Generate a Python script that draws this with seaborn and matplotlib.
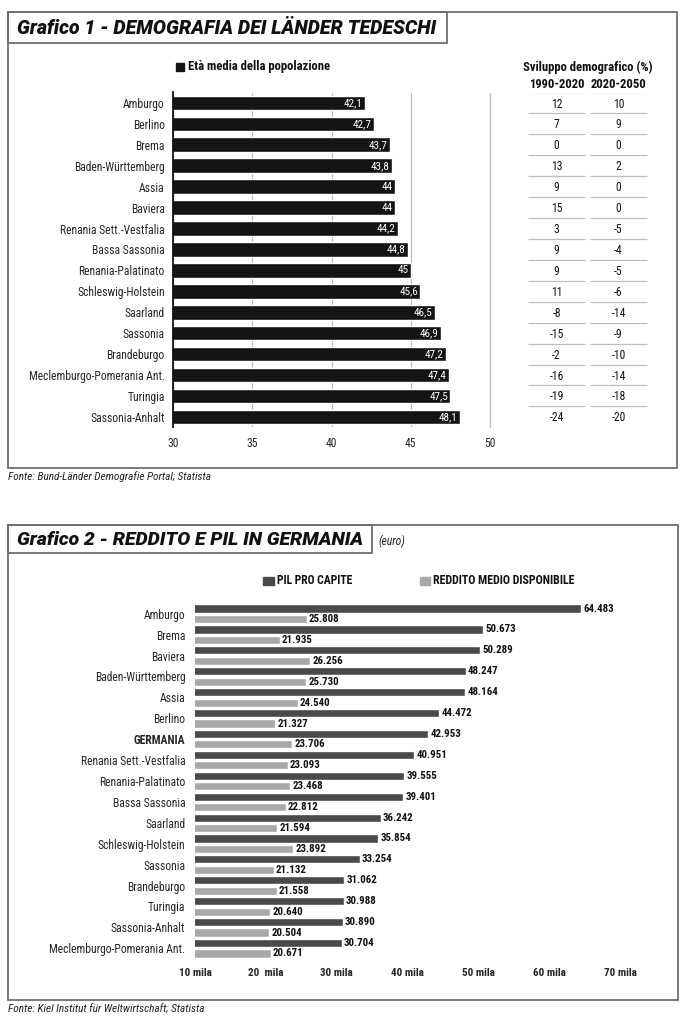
import numpy as np
import pandas as pd
import matplotlib
matplotlib.use("Agg")
import matplotlib.pyplot as plt
import seaborn as sns
from matplotlib import font_manager
from matplotlib.patches import Rectangle

W, H = 687, 1023

# ---------------------------------------------------------------------------
# Data - chart 1
# ---------------------------------------------------------------------------
laender_1 = ["Amburgo", "Berlino", "Brema", "Baden-Württemberg", "Assia", "Baviera",
             "Renania Sett.-Vestfalia", "Bassa Sassonia", "Renania-Palatinato",
             "Schleswig-Holstein", "Saarland", "Sassonia", "Brandeburgo",
             "Meclemburgo-Pomerania Ant.", "Turingia", "Sassonia-Anhalt"]
eta_media = [42.1, 42.7, 43.7, 43.8, 44, 44, 44.2, 44.8, 45, 45.6, 46.5, 46.9,
             47.2, 47.4, 47.5, 48.1]
sviluppo_1990_2020 = [12, 7, 0, 13, 9, 15, 3, 9, 9, 11, -8, -15, -2, -16, -19, -24]
sviluppo_2020_2050 = [10, 9, 0, 2, 0, 0, -5, -4, -5, -6, -14, -9, -10, -14, -18, -20]
ticks_1 = [30, 35, 40, 45, 50]

# ---------------------------------------------------------------------------
# Data - chart 2
# ---------------------------------------------------------------------------
laender_2 = ["Amburgo", "Brema", "Baviera", "Baden-Württemberg", "Assia", "Berlino",
             "GERMANIA", "Renania Sett.-Vestfalia", "Renania-Palatinato",
             "Bassa Sassonia", "Saarland", "Schleswig-Holstein", "Sassonia",
             "Brandeburgo", "Turingia", "Sassonia-Anhalt", "Meclemburgo-Pomerania Ant."]
pil_pro_capite = [64483, 50673, 50289, 48247, 48164, 44472, 42953, 40951, 39555,
                  39401, 36242, 35854, 33254, 31062, 30988, 30890, 30704]
reddito_medio = [25808, 21935, 26256, 25730, 24540, 21327, 23706, 23093, 23468,
                 22812, 21594, 23892, 21132, 21558, 20640, 20504, 20671]
ticks_2 = [10000, 20000, 30000, 40000, 50000, 60000, 70000]
tick_labels_2 = ["10 mila", "20  mila", "30 mila", "40 mila", "50 mila", "60 mila", "70 mila"]

# ---------------------------------------------------------------------------
# Fonts: prefer a narrow face, fall back to the narrowest installed one
# ---------------------------------------------------------------------------
sns.set_theme(style="white")
names = {f.name for f in font_manager.fontManager.ttflist}
FONT = next((c for c in ["Roboto Condensed", "Liberation Sans Narrow", "Open Sans Condensed",
                         "Noto Sans Condensed"] if c in names),
            "Roboto" if "Roboto" in names else "DejaVu Sans")
TITLE_FONT = "Roboto" if "Roboto" in names else FONT
plt.rcParams["font.family"] = [FONT, "DejaVu Sans"]

FRAME = "#6e6e6e"
DARK = "#4a4a4a"
LIGHT = "#a8a8a8"
INK = "#111111"

fig = plt.figure(figsize=(W / 100, H / 100), dpi=100)
renderer = fig.canvas.get_renderer()


def fit(s, target, **kw):
    """Font size so that s is about target pixels wide."""
    t = fig.text(0, 0, s, fontsize=10, **kw)
    w = t.get_window_extent(renderer).width
    t.remove()
    return 10 * target / w


def px(x, y):
    return x / W, 1 - y / H


def box(x0, y0, x1, y1):
    return [x0 / W, 1 - y1 / H, (x1 - x0) / W, (y1 - y0) / H]


def rect(x0, y0, x1, y1, **kw):
    fig.patches.append(Rectangle(px(x0, y1), (x1 - x0) / W, (y1 - y0) / H,
                                 transform=fig.transFigure, **kw))


# sizes calibrated on text widths measured in the reference
FS = fit("Renania Sett.-Vestfalia", 104)
FS_B = fit("Età media della popolazione", 142, fontweight="bold")
FS_VAL2 = fit("64.483", 31, fontweight="bold")
FS_SRC = fit("Fonte: Bund-Länder Demografie Portal; Statista", 204, fontstyle="italic")

# frames and title boxes
for r in [(8, 12, 677, 468), (8, 525, 678, 1000), (8, 12, 447, 43), (8, 525, 372, 553)]:
    rect(*r, fill=False, edgecolor=FRAME, lw=1.3)

t1 = "Grafico 1 - DEMOGRAFIA DEI LÄNDER TEDESCHI"
t2 = "Grafico 2 - REDDITO E PIL IN GERMANIA"
title_kw = dict(fontweight="black", fontstyle="italic", family=[TITLE_FONT, "DejaVu Sans"])
fig.text(*px(17, 28), t1, ha="left", va="center", color=INK,
         fontsize=min(fit(t1, 419, **title_kw), 16), **title_kw)
fig.text(*px(17, 540), t2, ha="left", va="center", color=INK,
         fontsize=min(fit(t2, 346, **title_kw), 16), **title_kw)
fig.text(*px(378, 541), "(euro)", ha="left", va="center",
         fontsize=fit("(euro)", 27, fontstyle="italic"), fontstyle="italic", color="#222")
fig.text(*px(8, 477), "Fonte: Bund-Länder Demografie Portal; Statista", ha="left",
         va="center", fontsize=FS_SRC, fontstyle="italic", color="#222")
fig.text(*px(8, 1009), "Fonte: Kiel Institut für Weltwirtschaft; Statista", ha="left",
         va="center", fontsize=FS_SRC, fontstyle="italic", color="#222")

# ---------------------------------------------------------------------------
# Chart 1 - bars
# ---------------------------------------------------------------------------
ax1 = fig.add_axes(box(173, 92.5, 490, 427.3))
sns.barplot(x=eta_media, y=laender_1, orient="h", color="#141414", width=0.7,
            saturation=1, ax=ax1)
ax1.set_xlim(30, 50)
ax1.set_xticks(ticks_1)
ax1.set_xticklabels([str(t) for t in ticks_1], fontsize=FS)
ax1.tick_params(axis="both", length=0)
ax1.tick_params(axis="x", pad=7)
ax1.tick_params(axis="y", labelsize=FS, pad=6)
ax1.set_axisbelow(True)
ax1.xaxis.grid(True, color="#bdbdbd", lw=0.9)
ax1.yaxis.grid(False)
ax1.axvline(50, color="#bdbdbd", lw=0.9, clip_on=False, zorder=0)
for side in ["top", "right", "bottom"]:
    ax1.spines[side].set_visible(False)
ax1.spines["left"].set_color(INK)
ax1.spines["left"].set_linewidth(1.3)
ax1.set_xlabel("")
ax1.set_ylabel("")
for i, v in enumerate(eta_media):
    ax1.text(v - 0.15, i, f"{v:g}".replace(".", ","), ha="right", va="center",
             color="white", fontsize=FS * 0.95)

rect(176, 63, 184, 71, color="#141414")
fig.text(*px(188, 67), "Età media della popolazione", ha="left", va="center",
         fontsize=FS_B, fontweight="bold", color=INK)

# ---------------------------------------------------------------------------
# Chart 1 - table
# ---------------------------------------------------------------------------
axt = fig.add_axes(box(520, 92.5, 660, 427.3))
col_x = [556.5, 618.5]
col_span = [(528, 585), (590, 647)]
for cx, vals in zip(col_x, [sviluppo_1990_2020, sviluppo_2020_2050]):
    for i, v in enumerate(vals):
        axt.text(cx, i + 0.05, str(v), ha="center", va="center", fontsize=FS,
                 color=INK)
rows = np.arange(len(laender_1))
for (a, b) in col_span:
    axt.hlines(rows - 0.5, a, b, color="#bdbdbd", lw=0.9)
axt.set_xlim(520, 660)
axt.set_ylim(len(laender_1) - 0.5, -0.5)
axt.axis("off")
ax1.set_ylim(len(laender_1) - 0.5, -0.5)

fig.text(*px(588, 67), "Sviluppo demografico (%)", ha="center", va="center",
         fontsize=FS_B, fontweight="bold", color=INK)
fig.text(*px(col_x[0], 84), "1990-2020", ha="center", va="center",
         fontsize=FS_B, fontweight="bold", color=INK)
fig.text(*px(col_x[1], 84), "2020-2050", ha="center", va="center",
         fontsize=FS_B, fontweight="bold", color=INK)

# ---------------------------------------------------------------------------
# Chart 2
# ---------------------------------------------------------------------------
df2 = pd.DataFrame({
    "land": laender_2 * 2,
    "valore": pil_pro_capite + reddito_medio,
    "serie": ["PIL PRO CAPITE"] * len(laender_2) + ["REDDITO MEDIO DISPONIBILE"] * len(laender_2),
})
ax2 = fig.add_axes(box(195, 603.3, 620, 958.7))
sns.barplot(data=df2, x="valore", y="land", hue="serie", orient="h",
            palette=[DARK, LIGHT], width=1.0, gap=0.22, saturation=1,
            legend=False, ax=ax2)
ax2.set_xlim(10000, 70000)
ax2.set_xticks(ticks_2)
ax2.set_xticklabels(tick_labels_2, fontsize=FS * 0.95, fontweight="bold")
ax2.tick_params(axis="both", length=0)
ax2.tick_params(axis="x", pad=7)
ax2.tick_params(axis="y", labelsize=FS, pad=7)
for lab in ax2.get_yticklabels():
    if lab.get_text() == "GERMANIA":
        lab.set_fontweight("bold")
ax2.grid(False)
for side in ax2.spines:
    ax2.spines[side].set_visible(False)
ax2.set_xlabel("")
ax2.set_ylabel("")
for cont in ax2.containers:
    ax2.bar_label(cont, labels=[f"{int(v):,}".replace(",", ".") for v in cont.datavalues],
                  padding=1.5, fontsize=FS_VAL2, fontweight="bold", color=INK,
                  clip_on=False)

rect(263, 577, 274, 585, color=DARK)
fig.text(*px(277, 581), "PIL PRO CAPITE", ha="left", va="center",
         fontsize=fit("PIL PRO CAPITE", 76, fontweight="bold"), fontweight="bold", color=INK)
rect(420, 577, 430, 585, color=LIGHT)
fig.text(*px(433, 581), "REDDITO MEDIO DISPONIBILE", ha="left", va="center",
         fontsize=fit("REDDITO MEDIO DISPONIBILE", 143, fontweight="bold"),
         fontweight="bold", color=INK)

fig.savefig("out.png", dpi=100)
